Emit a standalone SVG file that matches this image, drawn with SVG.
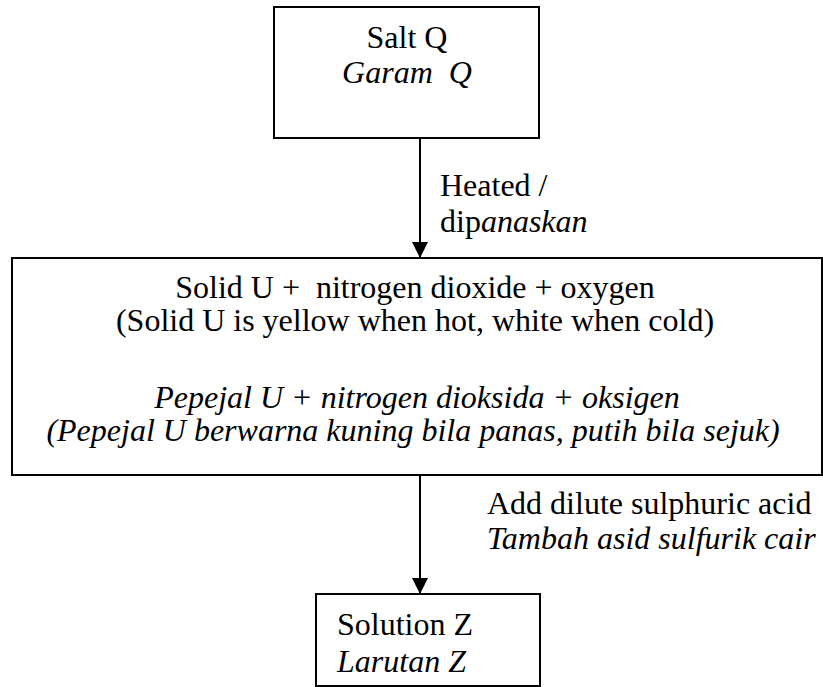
<svg xmlns="http://www.w3.org/2000/svg" width="823" height="687" viewBox="0 0 823 687">
<style>
  .box { fill: #fff; stroke: #000; stroke-width: 2; }
  .t { font-family: "Liberation Serif", "Times New Roman", serif; font-size: 32px; fill: #000; }
  .i { font-style: italic; }
  .c { text-anchor: middle; }
  .conn { stroke: #000; stroke-width: 2; fill: none; }
</style>
<defs>
  <marker id="arr" viewBox="0 0 16 16" refX="16" refY="8" markerWidth="16" markerHeight="16" markerUnits="userSpaceOnUse" orient="auto">
    <path d="M0,0 L16,8 L0,16 Z" fill="#000"/>
  </marker>
</defs>
<rect width="823" height="687" fill="#fff"/>
<g id="connectors">
  <line class="conn" x1="420" y1="138" x2="420" y2="258" marker-end="url(#arr)"/>
  <line class="conn" x1="420" y1="475" x2="420" y2="594" marker-end="url(#arr)"/>
  <text class="t" x="440" y="196">Heated /</text>
  <text class="t" x="440" y="232">dip<tspan class="i">anaskan</tspan></text>
  <text class="t" x="487" y="514">Add dilute sulphuric acid</text>
  <text class="t i" x="487" y="549">Tambah asid sulfurik cair</text>
</g>
<g id="saltQ">
  <rect class="box" x="274" y="7" width="265" height="131"/>
  <text class="t c" x="407" y="48">Salt Q</text>
  <text class="t c i" x="407" y="83" xml:space="preserve">Garam  Q</text>
</g>
<g id="solidU">
  <rect class="box" x="12" y="258" width="810" height="217"/>
  <text class="t c" x="415" y="298" xml:space="preserve">Solid U +  nitrogen dioxide + oxygen</text>
  <text class="t c" x="415" y="331">(Solid U is yellow when hot, white when cold)</text>
  <text class="t c i" x="417" y="408">Pepejal U + nitrogen dioksida + oksigen</text>
  <text class="t c i" x="413" y="441">(Pepejal U berwarna kuning bila panas, putih bila sejuk)</text>
</g>
<g id="solutionZ">
  <rect class="box" x="316" y="594" width="224" height="92"/>
  <text class="t" x="337" y="635">Solution Z</text>
  <text class="t i" x="337" y="672">Larutan Z</text>
</g>
</svg>
